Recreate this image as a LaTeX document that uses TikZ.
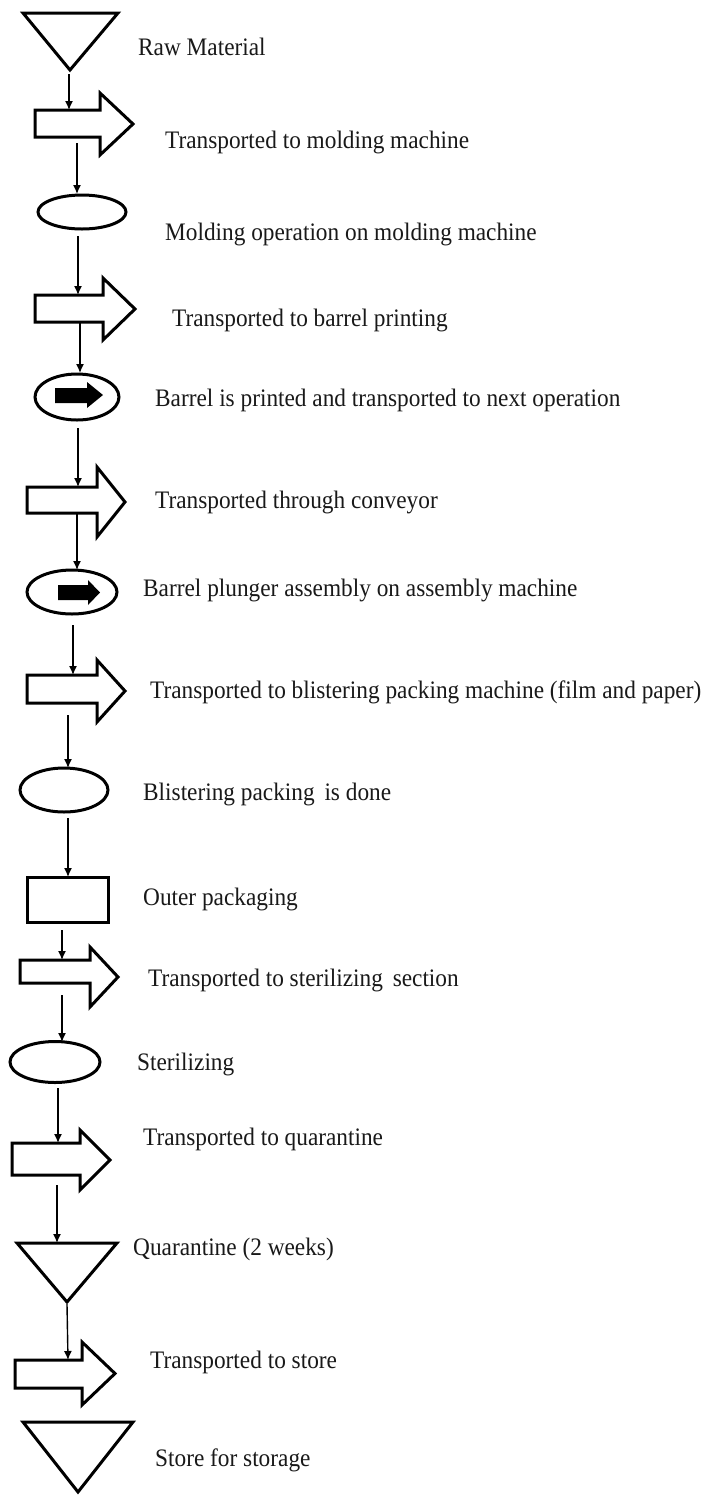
\documentclass[tikz,border=0pt]{standalone}
\usepackage{fontspec}
\setmainfont{Liberation Serif}
\usetikzlibrary{arrows.meta,shapes.geometric}
\newcommand{\blockarr}[7]{%
  \draw[shapeline] (#1,#2) -- (#4,#2) -- (#4,#5) -- (#7,{(#5+#6)/2}) -- (#4,#6) -- (#4,#3) -- (#1,#3) -- cycle;}
\newcommand{\solidarr}[7]{%
  \fill[black] (#1,#2) -- (#4,#2) -- (#4,#5) -- (#7,{(#5+#6)/2}) -- (#4,#6) -- (#4,#3) -- (#1,#3) -- cycle;}
\newcommand{\tallt}[1]{\scalebox{1}[1.08]{#1}}
\begin{document}
\begin{tikzpicture}[x=1pt,y=-1pt,
  shapeline/.style={line width=3pt,line join=miter},
  oval/.style={ellipse,draw,line width=3pt,inner sep=0pt},
  conn/.style={line width=1.4pt,-{Latex[length=9pt,width=8pt]}},
  lbl/.style={anchor=base west,inner sep=0pt,text=black!90,font=\fontsize{23.3}{28}\selectfont}]
\useasboundingbox[fill=white] (0,0) rectangle (708,1497);

% 1 raw material
\draw[shapeline] (23,13) -- (118,13) -- (70,70) -- cycle;
\node[lbl] (t1) at (138,55) {\tallt{Raw Material}};
\coordinate (s1) at (69,74); \coordinate (e1) at (69,110);
% 2
\blockarr{35}{110}{137}{100}{93}{155}{133}
\node[lbl] (t2) at (165,148) {\tallt{Transported to molding machine}};
\coordinate (s2) at (77,143); \coordinate (e2) at (77,194);
% 3
\node[oval,minimum width=88pt,minimum height=34pt] (o1) at (82,212) {};
\node[lbl] (t3) at (165,240) {\tallt{Molding operation on molding machine}};
\coordinate (s3) at (78,236); \coordinate (e3) at (78,295);
% 4
\blockarr{35}{295}{322}{103}{278}{340}{135}
\node[lbl] (t4) at (172,326) {\tallt{Transported to barrel printing}};
\coordinate (s4) at (80,322); \coordinate (e4) at (80,373);
% 5
\node[oval,minimum width=84pt,minimum height=46pt] (o2) at (77,397) {};
\solidarr{55}{388}{403}{87}{382}{408}{103}
\node[lbl] (t5) at (155,406) {\tallt{Barrel is printed and transported to next operation}};
\coordinate (s5) at (78,428); \coordinate (e5) at (78,487);
% 6
\blockarr{27}{487}{513}{97}{467}{537}{125}
\node[lbl] (t6) at (155,508) {\tallt{Transported through conveyor}};
\coordinate (s6) at (77,513); \coordinate (e6) at (77,570);
% 7
\node[oval,minimum width=90pt,minimum height=44pt] (o3) at (72,592) {};
\solidarr{58}{585}{600}{88}{580}{605}{100}
\node[lbl] (t7) at (143,596) {\tallt{Barrel plunger assembly on assembly machine}};
\coordinate (s7) at (73,625); \coordinate (e7) at (73,675);
% 8
\blockarr{27}{675}{703}{97}{660}{722}{125}
\node[lbl] (t8) at (150,698) {\tallt{Transported to blistering packing machine (film and paper)}};
\coordinate (s8) at (68,715); \coordinate (e8) at (68,768);
% 9
\node[oval,minimum width=88pt,minimum height=44pt] (o4) at (64,790) {};
\node[lbl] (t9) at (143,800) {\tallt{Blistering packing\hspace{4pt} is done}};
\coordinate (s9) at (68,818); \coordinate (e9) at (68,877);
% 10
\node[draw,line width=3pt,minimum width=81pt,minimum height=45pt,inner sep=0pt] (r1) at (67.5,899.5) {};
\node[lbl] (t10) at (143,905) {\tallt{Outer packaging}};
\coordinate (s10) at (62,930); \coordinate (e10) at (62,960);
% 11
\blockarr{20}{960}{983}{90}{947}{1007}{118}
\node[lbl] (t11) at (148,986) {\tallt{Transported to sterilizing\hspace{4pt} section}};
\coordinate (s11) at (62,995); \coordinate (e11) at (62,1042);
% 12
\node[oval,minimum width=90pt,minimum height=41pt] (o5) at (55,1062) {};
\node[lbl] (t12) at (137,1070) {\tallt{Sterilizing}};
\coordinate (s12) at (58,1088); \coordinate (e12) at (58,1143);
% 13
\blockarr{12}{1143}{1175}{80}{1130}{1190}{110}
\node[lbl] (t13) at (143,1145) {\tallt{Transported to quarantine}};
\coordinate (s13) at (57,1185); \coordinate (e13) at (57,1243);
% 14
\draw[shapeline] (17,1243) -- (117,1243) -- (67,1302) -- cycle;
\node[lbl] (t14) at (133,1255) {\tallt{Quarantine (2 weeks)}};
\coordinate (s14) at (67,1304); \coordinate (e14) at (68,1360);
% 15
\blockarr{15}{1360}{1388}{82}{1342}{1405}{115}
\node[lbl] (t15) at (150,1368) {\tallt{Transported to store}};
% 16
\draw[shapeline] (23,1422) -- (133,1422) -- (78,1492) -- cycle;
\node[lbl] (t16) at (155,1466) {\tallt{Store for storage}};

\foreach \i in {1,...,14} {\draw[conn] (s\i) -- (e\i);}
\end{tikzpicture}
\end{document}
